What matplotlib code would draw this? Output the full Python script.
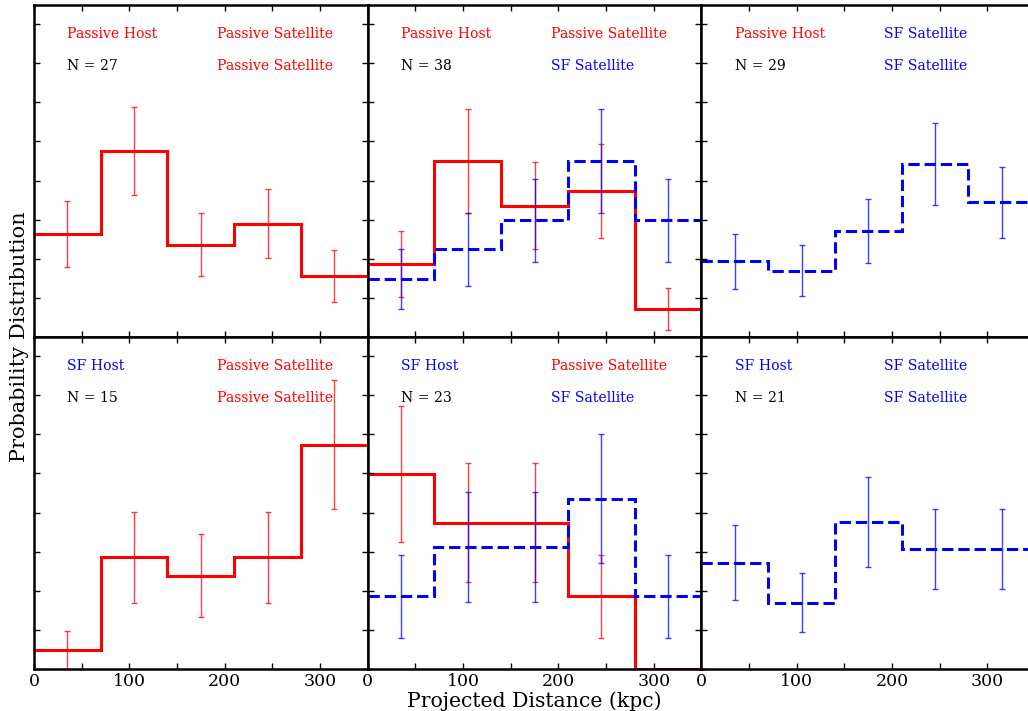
import numpy as np
import matplotlib
matplotlib.use("Agg")
import matplotlib.pyplot as plt
from matplotlib.ticker import MultipleLocator, FuncFormatter

plt.rcParams['font.family'] = ['DejaVu Serif']

# bins in projected distance (kpc)
edges = [0, 70, 140, 210, 280, 350]
centers = [35, 105, 175, 245, 315]

# passive hosts
ph_passive = [0.132, 0.238, 0.118, 0.145, 0.078]
ph_passive_err = [0.042, 0.056, 0.040, 0.044, 0.033]
ph_mix_passive = [0.093, 0.225, 0.168, 0.187, 0.036]
ph_mix_passive_err = [0.042, 0.066, 0.056, 0.060, 0.027]
ph_mix_sf = [0.074, 0.112, 0.149, 0.225, 0.149]
ph_mix_sf_err = [0.038, 0.047, 0.053, 0.066, 0.053]
ph_sf = [0.097, 0.085, 0.135, 0.221, 0.172]
ph_sf_err = [0.035, 0.033, 0.041, 0.052, 0.046]

# star-forming hosts
sh_passive = [0.024, 0.143, 0.119, 0.143, 0.287]
sh_passive_err = [0.024, 0.058, 0.053, 0.058, 0.082]
sh_mix_passive = [0.249, 0.187, 0.187, 0.093, 0.0]
sh_mix_passive_err = [0.087, 0.076, 0.076, 0.053, 0.0]
sh_mix_sf = [0.093, 0.156, 0.156, 0.218, 0.093]
sh_mix_sf_err = [0.053, 0.070, 0.070, 0.082, 0.053]
sh_sf = [0.136, 0.085, 0.188, 0.153, 0.153]
sh_sf_err = [0.048, 0.038, 0.057, 0.051, 0.051]

host_labels = ["Passive Host", "Passive Host", "Passive Host", "SF Host", "SF Host", "SF Host"]
n_values = [27, 38, 29, 15, 23, 21]
sat_labels = [("Passive Satellite", "Passive Satellite"),
              ("Passive Satellite", "SF Satellite"),
              ("SF Satellite", "SF Satellite")] * 2

RED = "#ff0000"
BLUE = "#0000ff"

# each panel: list of (values, errors, colour, linestyle)
panels = [
    [(ph_passive, ph_passive_err, RED, "-")],
    [(ph_mix_passive, ph_mix_passive_err, RED, "-"), (ph_mix_sf, ph_mix_sf_err, BLUE, "--")],
    [(ph_sf, ph_sf_err, BLUE, "--")],
    [(sh_passive, sh_passive_err, RED, "-")],
    [(sh_mix_passive, sh_mix_passive_err, RED, "-"), (sh_mix_sf, sh_mix_sf_err, BLUE, "--")],
    [(sh_sf, sh_sf_err, BLUE, "--")],
]

W, H = 1028, 711
fig = plt.figure(figsize=(W / 100, H / 100), dpi=100)

pw, ph = 333.7, 332
for i, series in enumerate(panels):
    row, col = divmod(i, 3)
    left = (34 + pw * col) / W
    bottom = (711 - 337 - ph * row) / H
    ax = fig.add_axes([left, bottom, pw / W, ph / H])

    for vals, errs, color, ls in series:
        vals = np.array(vals)
        errs = np.array(errs)
        ax.stairs(vals, edges, color=color, linestyle=ls, linewidth=2.2, baseline=None)
        ok = errs > 0  # skip empty bins
        ax.errorbar(np.array(centers)[ok], vals[ok], yerr=errs[ok], fmt="none",
                    ecolor=color, elinewidth=1.0, capsize=2, capthick=1.0, alpha=0.75)

    ax.set_xlim(0, 350)
    ax.set_ylim(0, 0.4245)
    ax.xaxis.set_major_locator(MultipleLocator(50))
    ax.xaxis.set_major_formatter(FuncFormatter(lambda v, p: f"{int(v)}" if int(v) % 100 == 0 and v < 350 else ""))
    ax.yaxis.set_major_locator(MultipleLocator(0.05))
    ax.yaxis.set_major_formatter(FuncFormatter(lambda v, p: ""))
    ax.tick_params(direction="in", top=True, right=True, length=4, width=1, labelsize=12.5, pad=3)
    if row == 0:
        ax.tick_params(labelbottom=False)
    for sp in ax.spines.values():
        sp.set_linewidth(1.8)

    host_color = RED if "Passive" in host_labels[i] else BLUE
    ax.text(35, 0.388, host_labels[i], color=host_color, fontsize=10.1, va="center")
    ax.text(35, 0.346, f"N = {n_values[i]}", color="black", fontsize=10.1, va="center")
    top_lab, bot_lab = sat_labels[i]
    ax.text(192, 0.388, top_lab, color=RED if "Passive" in top_lab else BLUE, fontsize=10.1, va="center")
    ax.text(192, 0.346, bot_lab, color=RED if "Passive" in bot_lab else BLUE, fontsize=10.1, va="center")

    if i == 4:
        ax.set_xlabel("Projected Distance (kpc)", fontsize=14.7, labelpad=1)

fig.text(20 / W, 1 - 337 / H, "Probability Distribution", rotation=90,
         ha="center", va="center", fontsize=15)

fig.savefig("out.png", dpi=100)
